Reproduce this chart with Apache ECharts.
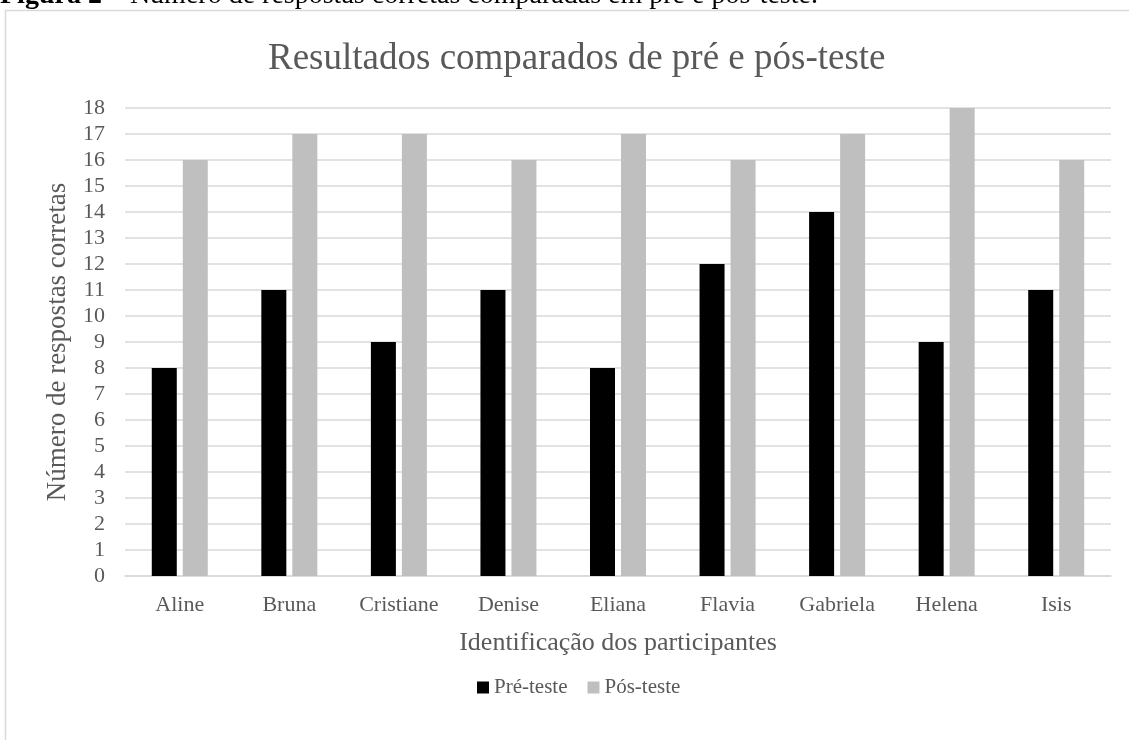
<!DOCTYPE html>
<html>
<head>
<meta charset="utf-8">
<script src="https://cdn.jsdelivr.net/npm/echarts@6/dist/echarts.min.js"></script>
<style>
  html, body { margin: 0; padding: 0; background: #fff; }
  #chart { width: 1129px; height: 740px; }
</style>
</head>
<body>
<div id="chart"></div>
<script>
// participantes e respostas corretas
var participantes = ['Aline', 'Bruna', 'Cristiane', 'Denise', 'Eliana', 'Flavia', 'Gabriela', 'Helena', 'Isis'];
var preTeste = [8, 11, 9, 11, 8, 12, 14, 9, 11];
var posTeste = [16, 17, 17, 16, 17, 16, 17, 18, 16];
var yTicks = { min: 0, max: 18, interval: 1 };

var font = '"Liberation Serif", "Times New Roman", serif';
var grey = '#595959';

var myChart = echarts.init(document.getElementById('chart'));
var option = {
    backgroundColor: '#fff',
    animation: false,
    textStyle: { fontFamily: font },
    title: {
        text: 'Resultados comparados de pré e pós-teste',
        left: 263,
        top: 36,
        textStyle: { fontFamily: font, fontSize: 37, fontWeight: 'normal', color: grey }
    },
    graphic: [
        {
            type: 'rect',
            shape: { x: 5.5, y: 10.5, width: 1300, height: 900 },
            style: { fill: 'none', stroke: '#d9d9d9', lineWidth: 1.5 },
            z: -1
        },
        {
            type: 'text',
            left: 0,
            top: -18,
            style: {
                text: '{b|Figura 2} – Número de respostas corretas comparadas em pré e pós-teste.',
                rich: {
                    b: { fontFamily: font, fontSize: 28, fontWeight: 'bold', fill: '#000' }
                },
                font: '28px ' + font,
                fill: '#000'
            }
        }
    ],
    legend: {
        bottom: 37,
        left: 472,
        itemWidth: 12,
        itemHeight: 12,
        itemGap: 20,
        itemTextGap: 3,
        icon: 'rect',
        textStyle: { fontFamily: font, fontSize: 21, color: grey },
        data: ['Pré-teste', 'Pós-teste']
    },
    grid: { left: 125, right: 18, top: 108, bottom: 164, containLabel: false },
    xAxis: {
        type: 'category',
        data: participantes,
        name: 'Identificação dos participantes',
        nameLocation: 'middle',
        nameGap: 54,
        nameTextStyle: { fontFamily: font, fontSize: 26, color: grey },
        axisLine: { lineStyle: { color: '#d9d9d9', width: 1.5 } },
        axisTick: { show: false },
        axisLabel: { fontFamily: font, fontSize: 22, color: grey, margin: 18 }
    },
    yAxis: {
        type: 'value',
        min: yTicks.min,
        max: yTicks.max,
        interval: yTicks.interval,
        name: 'Número de respostas corretas',
        nameLocation: 'middle',
        nameGap: 54,
        nameTextStyle: { fontFamily: font, fontSize: 27, color: grey },
        axisLine: { show: false },
        axisTick: { show: false },
        axisLabel: { fontFamily: font, fontSize: 22, color: grey, margin: 20 },
        splitLine: { lineStyle: { color: '#d9d9d9', width: 1.5 } }
    },
    series: [
        {
            name: 'Pré-teste',
            type: 'bar',
            data: preTeste,
            barWidth: 25,
            barGap: '24%',
            itemStyle: { color: '#000000' }
        },
        {
            name: 'Pós-teste',
            type: 'bar',
            data: posTeste,
            barWidth: 25,
            itemStyle: { color: '#bfbfbf' }
        }
    ]
};
option && myChart.setOption(option);
</script>
</body>
</html>
